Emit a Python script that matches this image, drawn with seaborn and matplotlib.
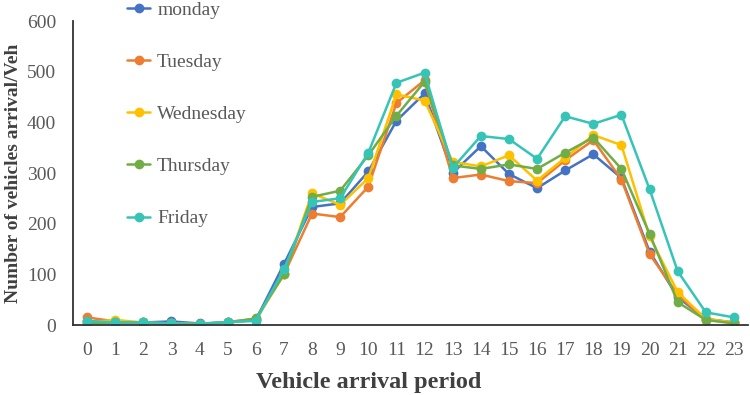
import matplotlib
matplotlib.use("Agg")
import matplotlib.pyplot as plt
import seaborn as sns
import pandas as pd

hours = list(range(24))
days = ["monday", "Tuesday", "Wednesday", "Thursday", "Friday"]
monday = [8, 5, 5, 7, 3, 5, 10, 120, 233, 240, 303, 403, 457, 300, 353, 298, 270, 305, 337, 290, 145, 55, 12, 5]
tuesday = [15, 7, 4, 3, 2, 6, 12, 100, 220, 213, 273, 438, 483, 290, 297, 284, 280, 325, 365, 287, 140, 60, 10, 5]
wednesday = [5, 10, 5, 3, 2, 5, 10, 100, 260, 237, 290, 455, 443, 322, 313, 335, 285, 330, 375, 355, 175, 65, 12, 5]
thursday = [3, 5, 5, 2, 2, 5, 13, 100, 253, 265, 335, 413, 480, 315, 308, 317, 308, 340, 370, 308, 180, 45, 10, 3]
friday = [8, 5, 5, 3, 2, 6, 8, 110, 243, 250, 340, 478, 498, 310, 373, 367, 328, 412, 397, 415, 268, 106, 25, 15]
colors = ["#4472C4", "#ED7D31", "#FFC000", "#70AD47", "#36C4B7"]

series = [monday, tuesday, wednesday, thursday, friday]
rows = []
for d, vals in zip(days, series):
    for h, v in zip(hours, vals):
        rows.append({"hour": h, "value": v, "day": d})
df = pd.DataFrame(rows)

sns.set_theme(style="white")
plt.rcParams["font.family"] = ["Liberation Serif", "DejaVu Serif"]

fig = plt.figure(figsize=(7.5, 3.95), dpi=100)
ax = fig.add_axes([73/750, 1 - 325/395, (748-73)/750, (325-21)/395])

sns.lineplot(data=df, x="hour", y="value", hue="day", hue_order=days,
             palette=colors, marker="o", markersize=7, markeredgewidth=0,
             linewidth=1.8, ax=ax, legend=True)

ax.set_xlim(-0.5, 23.5)
ax.set_ylim(0, 600)
ax.set_xticks(hours)
ax.set_xticklabels([str(h) for h in hours])
ax.set_yticks([0, 100, 200, 300, 400, 500, 600])
ax.tick_params(axis="both", length=0, labelsize=14, colors="#595959")
ax.tick_params(axis="x", pad=12)
ax.tick_params(axis="y", pad=12)
for s in ["top", "right"]:
    ax.spines[s].set_visible(False)
for s in ["left", "bottom"]:
    ax.spines[s].set_color("#333333")
    ax.spines[s].set_linewidth(1.3)

ax.set_xlabel("Vehicle arrival period", fontsize=17.5, fontweight="bold", color="#404040")
ax.xaxis.set_label_coords((369 - 73) / 675, -(372 - 325) / 304)
ax.set_ylabel("Number of vehicles arrival/Veh", fontsize=14, fontweight="bold", color="#404040")
ax.yaxis.set_label_coords(-(73 - 22) / 675, 0.5)

handles, labels = ax.get_legend_handles_labels()
ax.legend(handles, labels, loc="upper left", bbox_to_anchor=(127/750, 1 - 1/395),
          bbox_transform=fig.transFigure, frameon=False, fontsize=14,
          labelspacing=1.78, handlelength=1.2, handletextpad=0.35,
          borderpad=0, borderaxespad=0, labelcolor="#595959")

fig.savefig("out.png", dpi=100)
